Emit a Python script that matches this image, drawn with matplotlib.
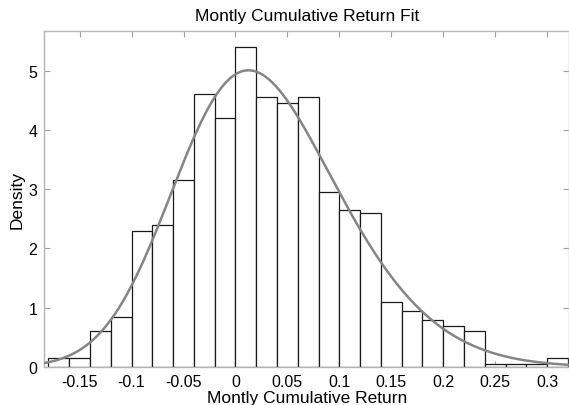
import math
import numpy as np
import matplotlib.pyplot as plt

plt.rcParams['font.family'] = ['Liberation Sans', 'DejaVu Sans']

# histogram of monthly cumulative returns (density, bin width 0.02)
bin_edges = np.arange(-0.18, 0.3201, 0.02)
density = [0.15, 0.15, 0.60, 0.85, 2.30, 2.40, 3.15, 4.60, 4.20, 5.40,
           4.55, 4.45, 4.55, 2.95, 2.65, 2.60, 1.10, 0.95, 0.80, 0.70,
           0.60, 0.05, 0.05, 0.05, 0.15]

# fitted skew-normal parameters
fit_loc = -0.049
fit_scale = 0.114
fit_shape = 1.75

x_ticks = [-0.15, -0.1, -0.05, 0, 0.05, 0.1, 0.15, 0.2, 0.25, 0.3]
x_ticklabels = ['-0.15', '-0.1', '-0.05', '0', '0.05', '0.1', '0.15', '0.2', '0.25', '0.3']
y_ticks = [0, 1, 2, 3, 4, 5]


def skewnorm_pdf(x, loc, scale, shape):
    z = (x - loc) / scale
    phi = np.exp(-0.5 * z**2) / math.sqrt(2 * math.pi)
    cdf = 0.5 * (1 + np.vectorize(math.erf)(shape * z / math.sqrt(2)))
    return 2.0 / scale * phi * cdf


fig = plt.figure(figsize=(5.69, 4.06), dpi=100)
ax = fig.add_axes([0.0778, 0.0936, 0.9222, 0.8276])

widths = np.diff(bin_edges)
ax.bar(bin_edges[:-1], density, width=widths, align='edge',
       facecolor='white', edgecolor='#1a1a1a', linewidth=0.9, zorder=2)

xs = np.linspace(-0.19, 0.33, 600)
ax.plot(xs, skewnorm_pdf(xs, fit_loc, fit_scale, fit_shape),
        color='#858585', linewidth=1.8, zorder=3)

ax.set_xlim(-0.184, 0.321)
ax.set_ylim(0, 5.67)
ax.set_xticks(x_ticks)
ax.set_xticklabels(x_ticklabels)
ax.set_yticks(y_ticks)

for side in ax.spines.values():
    side.set_color('#b5b5b5')
    side.set_linewidth(1.0)
ax.tick_params(direction='in', length=4, width=0.8, color='#a0a0a0',
               labelsize=11.5, top=True, right=True, pad=5)

ax.set_title('Montly Cumulative Return Fit', fontsize=12.5, pad=8)
ax.set_xlabel('Montly Cumulative Return', fontsize=12.5, labelpad=1)
ax.set_ylabel('Density', fontsize=12.5, labelpad=3)

fig.savefig('out.png', dpi=100)
